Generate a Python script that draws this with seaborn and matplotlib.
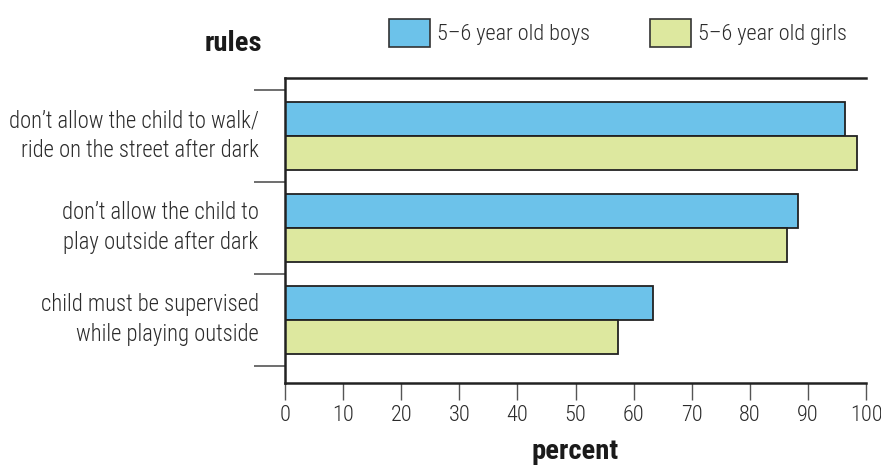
import matplotlib
matplotlib.use("Agg")
import matplotlib.pyplot as plt
from matplotlib.patches import Patch
from matplotlib import font_manager
import seaborn as sns
import pandas as pd

rules = ["don\u2019t allow the child to walk/\nride on the street after dark",
         "don\u2019t allow the child to\nplay outside after dark",
         "child must be supervised\nwhile playing outside"]
groups = ["5\u20136 year old boys", "5\u20136 year old girls"]
boys = [96.3, 88.3, 63.3]
girls = [98.4, 86.4, 57.3]
xticks = [0, 10, 20, 30, 40, 50, 60, 70, 80, 90, 100]

colors = ["#6cc2ea", "#dde89f"]

sns.set_theme(style="white")
names = {f.name for f in font_manager.fontManager.ttflist}
prefs = ["Roboto Condensed", "Liberation Sans Narrow", "Arial Narrow",
         "Archivo Narrow", "PT Sans Narrow", "IBM Plex Sans Condensed",
         "Open Sans Condensed", "Encode Sans Condensed", "Fira Sans Condensed"]
fam = next((p for p in prefs if p in names), "DejaVu Sans")
plt.rcParams["font.family"] = [fam, "DejaVu Sans"]
plt.rcParams["font.weight"] = "light"
txt = "#2b2b2b"
FS = 16

df = pd.DataFrame({
    "rule": rules * 2,
    "group": [groups[0]] * 3 + [groups[1]] * 3,
    "percent": boys + girls,
})

fig = plt.figure(figsize=(8.81, 4.65), dpi=100)
ax = fig.add_axes([285 / 881, 1 - 383 / 465, (866 - 285) / 881, (383 - 78) / 465])
sns.barplot(data=df, y="rule", x="percent", hue="group", palette=colors,
            saturation=1, orient="h", width=0.74, edgecolor="#222222",
            linewidth=1.3, ax=ax, legend=False, order=rules, hue_order=groups)

ax.set_xlim(0, 100)
ax.set_ylim(2.69, -0.63)
ax.set_xticks(xticks)
ax.set_xticklabels([str(v) for v in xticks], fontsize=FS, color=txt)
ax.set_yticks([-0.5, 0.5, 1.5, 2.5])
ax.set_yticklabels([])
ax.set_yticks([0, 1, 2], minor=True)
ax.set_yticklabels(rules, minor=True, fontsize=16.3, color=txt, ha="right",
                   va="center", linespacing=1.4)
ax.tick_params(axis="y", which="major", length=22, width=1.2, color="#555555",
               left=True, direction="out")
ax.tick_params(axis="y", which="minor", length=0, pad=19, left=True)
ax.tick_params(axis="x", which="major", length=12, width=1.0, color="#555555",
               bottom=True, direction="out", pad=4)
ax.set_xlabel("")
ax.set_ylabel("")
for s in ["left", "bottom", "top"]:
    ax.spines[s].set_visible(True)
    ax.spines[s].set_color("#222222")
    ax.spines[s].set_linewidth(1.8)
ax.spines["right"].set_visible(False)

handles = [Patch(facecolor=c, edgecolor="#333333", linewidth=1.2) for c in colors]
fig.legend(handles, groups, ncol=2, loc="center left",
           bbox_to_anchor=(389 / 881, 1 - 33 / 465), frameon=False,
           fontsize=FS, handlelength=1.85, handleheight=1.5, handletextpad=0.32,
           columnspacing=2.7, labelcolor=txt, borderaxespad=0, borderpad=0)

fig.text(233 / 881, 1 - 43 / 465, "rules", ha="center", va="center",
         fontsize=20.5, fontweight="bold", color="#1a1a1a")
fig.text(575 / 881, 1 - 451 / 465, "percent", ha="center", va="center",
         fontsize=20.5, fontweight="bold", color="#1a1a1a")

fig.savefig("out.png", dpi=100)
